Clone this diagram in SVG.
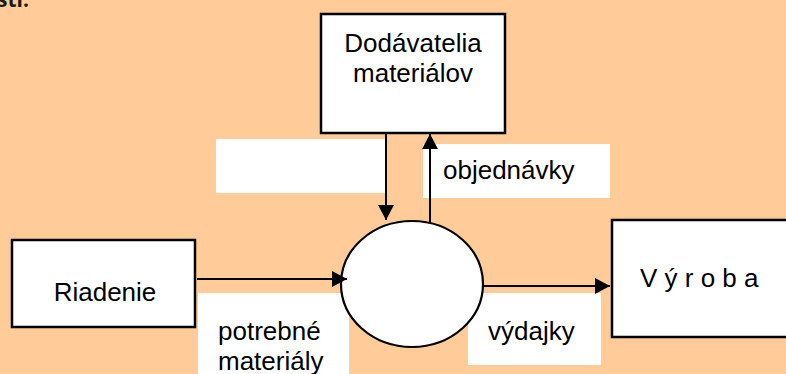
<svg xmlns="http://www.w3.org/2000/svg" width="786" height="374" viewBox="0 0 786 374">
  <style>
    .box { fill: #ffffff; stroke: #000000; stroke-width: 2.5; }
    .proc { fill: #ffffff; stroke: #000000; stroke-width: 2.2; }
    .label { fill: #ffffff; stroke: none; }
    .flow { fill: none; stroke: #000000; stroke-width: 2; }
    .t { font-family: "Liberation Sans", Arial, sans-serif; font-size: 26px; fill: #000000; }
    .head { font-family: "Open Sans", "Liberation Sans", sans-serif; font-size: 21px; font-weight: bold; fill: #1a1a1a; }
  </style>
  <defs>
    <marker id="arrow" markerWidth="16" markerHeight="16" refX="15" refY="8" orient="auto" markerUnits="userSpaceOnUse">
      <path d="M0,0 L15,8 L0,16 Z" fill="#000000"/>
    </marker>
  </defs>

  <!-- background -->
  <rect x="0" y="0" width="786" height="374" fill="#ffcc99"/>

  <!-- heading tail from the preceding line -->
  <text class="head" x="-3" y="7">sti.</text>

  <!-- flow labels (white patches) -->
  <g id="labels">
    <rect class="label" x="216" y="139" width="169" height="54"/>
    <rect class="label" x="423" y="144" width="187" height="54"/>
    <text class="t" x="443" y="179">objednávky</text>
    <rect class="label" x="198" y="293" width="151" height="90"/>
    <text class="t" x="218" y="340">potrebné</text>
    <text class="t" x="218" y="370">materiály</text>
    <rect class="label" x="468" y="293" width="133" height="72"/>
    <text class="t" x="488" y="340">výdajky</text>
  </g>

  <g id="node-dodavatelia">
    <rect class="box" x="321" y="14" width="184" height="119"/>
    <text class="t" x="413" y="52" text-anchor="middle">Dodávatelia</text>
    <text class="t" x="413" y="82" text-anchor="middle">materiálov</text>
  </g>

  <g id="node-riadenie">
    <rect class="box" x="12" y="240" width="183" height="87"/>
    <text class="t" x="105" y="301" text-anchor="middle">Riadenie</text>
  </g>

  <g id="node-vyroba">
    <rect class="box" x="612" y="220" width="190" height="117"/>
    <text class="t" x="640" y="287">V ý r o b a</text>
  </g>

  <g id="node-sklad">
    <ellipse class="proc" cx="412" cy="284" rx="71" ry="63"/>
  </g>

  <g id="connectors">
    <line class="flow" x1="386" y1="133" x2="386" y2="220" marker-end="url(#arrow)"/>
    <line class="flow" x1="430" y1="223" x2="430" y2="134" marker-end="url(#arrow)"/>
    <line class="flow" x1="197" y1="279" x2="347" y2="279" marker-end="url(#arrow)"/>
    <line class="flow" x1="483" y1="286" x2="610" y2="286" marker-end="url(#arrow)"/>
  </g>
</svg>
